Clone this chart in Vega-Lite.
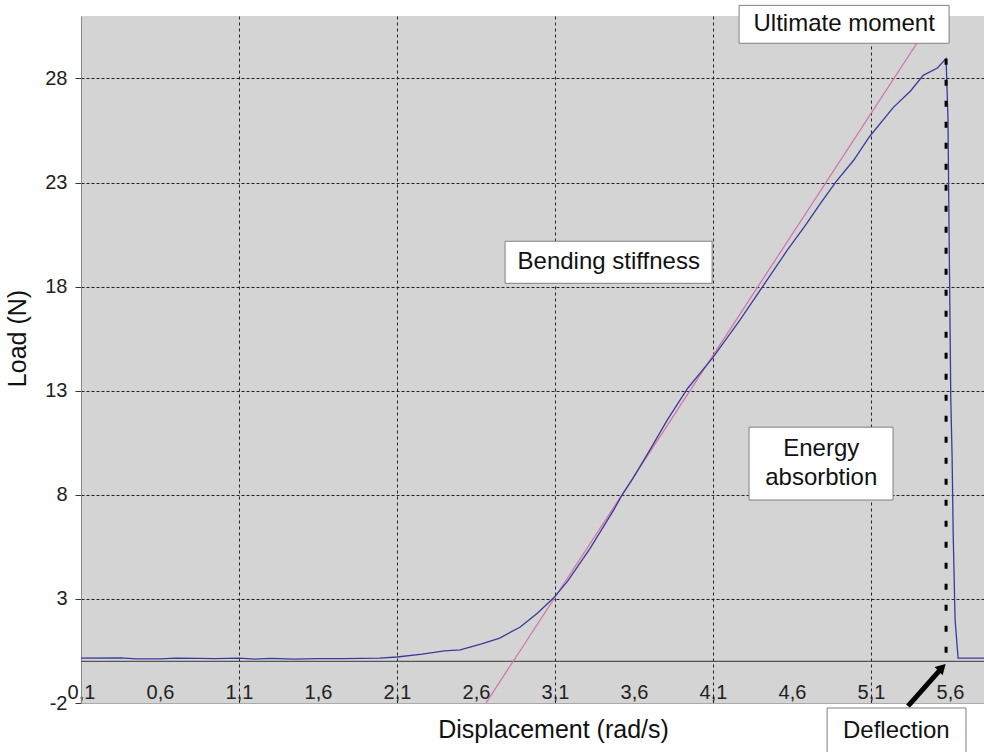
{
  "$schema": "https://vega.github.io/schema/vega-lite/v6.json",
  "autosize": {"type": "none"},
  "width": 903,
  "height": 687,
  "padding": {"left": 81, "top": 16, "right": 0, "bottom": 49},
  "background": "white",
  "config": {
    "font": "Liberation Sans",
    "view": {"fill": "#d4d4d4", "stroke": null}
  },
  "datasets": {
    "blue": [
      {"x": 0.10, "y": 0.16}, {"x": 0.35, "y": 0.17}, {"x": 0.45, "y": 0.12}, {"x": 0.60, "y": 0.12},
      {"x": 0.70, "y": 0.16}, {"x": 0.85, "y": 0.14}, {"x": 0.95, "y": 0.13}, {"x": 1.10, "y": 0.16},
      {"x": 1.20, "y": 0.11}, {"x": 1.30, "y": 0.14}, {"x": 1.45, "y": 0.11}, {"x": 1.60, "y": 0.13},
      {"x": 1.75, "y": 0.13}, {"x": 1.99, "y": 0.16}, {"x": 2.10, "y": 0.21}, {"x": 2.26, "y": 0.35},
      {"x": 2.40, "y": 0.50}, {"x": 2.50, "y": 0.55}, {"x": 2.63, "y": 0.83}, {"x": 2.75, "y": 1.12},
      {"x": 2.88, "y": 1.65}, {"x": 2.99, "y": 2.32}, {"x": 3.09, "y": 3.04}, {"x": 3.18, "y": 3.85},
      {"x": 3.32, "y": 5.4}, {"x": 3.47, "y": 7.25}, {"x": 3.52, "y": 7.94}, {"x": 3.59, "y": 8.75},
      {"x": 3.70, "y": 10.15}, {"x": 3.81, "y": 11.59}, {"x": 3.94, "y": 13.12}, {"x": 4.10, "y": 14.60},
      {"x": 4.27, "y": 16.39}, {"x": 4.42, "y": 18.07}, {"x": 4.57, "y": 19.75}, {"x": 4.68, "y": 20.9},
      {"x": 4.78, "y": 22.0}, {"x": 4.88, "y": 23.06}, {"x": 4.99, "y": 24.07}, {"x": 5.09, "y": 25.2},
      {"x": 5.24, "y": 26.6}, {"x": 5.35, "y": 27.4}, {"x": 5.43, "y": 28.15}, {"x": 5.52, "y": 28.5},
      {"x": 5.575, "y": 28.95}, {"x": 5.587, "y": 26.1}, {"x": 5.592, "y": 22.1}, {"x": 5.605, "y": 12.5},
      {"x": 5.613, "y": 9.9}, {"x": 5.62, "y": 6.1}, {"x": 5.632, "y": 2.0}, {"x": 5.651, "y": 0.16},
      {"x": 5.815, "y": 0.16}
    ],
    "pink": [{"x": 2.663, "y": -2}, {"x": 5.503, "y": 31}],
    "boxes": [
      {"x1": 4.265, "x2": 5.594, "y1": 31.51, "y2": 29.69},
      {"x1": 2.784, "x2": 4.094, "y1": 20.18, "y2": 18.16},
      {"x1": 4.328, "x2": 5.239, "y1": 11.25, "y2": 7.75},
      {"x1": 4.822, "x2": 5.701, "y1": -2.24, "y2": -4.6}
    ],
    "labels": [
      {"label": "Ultimate moment", "x": 4.93, "y": 30.6},
      {"label": "Bending stiffness", "x": 3.44, "y": 19.17},
      {"label": "Energy", "x": 4.785, "y": 10.19},
      {"label": "absorbtion", "x": 4.785, "y": 8.80},
      {"label": "Deflection", "x": 5.26, "y": -3.34}
    ]
  },
  "layer": [
    {
      "data": {"values": [{"y": 0}]},
      "mark": {"type": "rule", "color": "#555555", "strokeWidth": 1.2},
      "encoding": {
        "y": {
          "field": "y", "type": "quantitative",
          "scale": {"domain": [-2, 31], "nice": false, "zero": false},
          "axis": {
            "values": [-2, 3, 8, 13, 18, 23, 28],
            "labelExpr": "datum.value < 0 ? '-' + abs(datum.value) : '' + datum.value",
            "grid": true, "gridColor": "#222222", "gridDash": [3, 2], "gridWidth": 1,
            "gridOpacity": {"condition": {"test": "datum.value < 0", "value": 0}, "value": 1},
            "domainColor": "#888888", "tickColor": "#333333", "tickSize": 6,
            "labelPadding": 8, "labelFontSize": 20, "labelColor": "#222222",
            "title": "Load (N)", "titleFontSize": 25, "titleFontWeight": "normal", "titleColor": "#111111",
            "titleX": -56, "titleY": 322, "titleBaseline": "alphabetic", "titleAlign": "center", "titleAngle": -90
          }
        }
      }
    },
    {
      "data": {"name": "pink"},
      "mark": {"type": "line", "color": "#d070ac", "strokeWidth": 1.2, "clip": true},
      "encoding": {
        "x": {
          "field": "x", "type": "quantitative",
          "scale": {"domain": [0.1, 5.815], "nice": false, "zero": false},
          "axis": {
            "values": [0.1, 0.6, 1.1, 1.6, 2.1, 2.6, 3.1, 3.6, 4.1, 4.6, 5.1, 5.6],
            "labelExpr": "replace(format(datum.value, '.1f'), '.', ',')",
            "labelFlush": false, "labelOverlap": false,
            "ticks": false, "tickSize": 0,
            "labelPadding": -5, "labelBaseline": "alphabetic",
            "labelFontSize": 20, "labelColor": "#222222",
            "domainColor": "#aaaaaa",
            "grid": true, "gridColor": "#222222", "gridDash": [3, 3], "gridWidth": 1,
            "gridOpacity": {"condition": {"test": "round(datum.value * 10) % 10 == 1 && datum.value > 0.5", "value": 1}, "value": 0},
            "title": "Displacement (rad/s)", "titleFontSize": 25, "titleFontWeight": "normal", "titleColor": "#111111",
            "titleX": 472, "titleY": 34, "titleBaseline": "alphabetic", "titleAlign": "center"
          }
        },
        "y": {"field": "y", "type": "quantitative"}
      }
    },
    {
      "data": {"name": "blue"},
      "mark": {"type": "line", "color": "#3a3a9c", "strokeWidth": 1.3},
      "encoding": {
        "x": {"field": "x", "type": "quantitative"},
        "y": {"field": "y", "type": "quantitative"}
      }
    },
    {
      "data": {"values": [{"x": 5.575, "y": 28.95, "y2": 0}]},
      "mark": {"type": "rule", "color": "black", "strokeWidth": 3, "strokeDash": [6, 15]},
      "encoding": {
        "x": {"field": "x", "type": "quantitative"},
        "y": {"field": "y", "type": "quantitative"},
        "y2": {"field": "y2"}
      }
    },
    {
      "data": {"values": [{"x": 5.334, "y": -2.15, "x2": 5.55, "y2": -0.3}]},
      "mark": {"type": "rule", "color": "black", "strokeWidth": 5},
      "encoding": {
        "x": {"field": "x", "type": "quantitative"},
        "y": {"field": "y", "type": "quantitative"},
        "x2": {"field": "x2"},
        "y2": {"field": "y2"}
      }
    },
    {
      "data": {"values": [{"x": 5.55, "y": -0.3}]},
      "mark": {"type": "point", "shape": "triangle-up", "angle": 45, "filled": true, "color": "black", "opacity": 1, "size": 130},
      "encoding": {
        "x": {"field": "x", "type": "quantitative"},
        "y": {"field": "y", "type": "quantitative"}
      }
    },
    {
      "data": {"name": "boxes"},
      "mark": {"type": "rect", "fill": "white", "stroke": "#808080", "strokeWidth": 1},
      "encoding": {
        "x": {"field": "x1", "type": "quantitative"},
        "x2": {"field": "x2"},
        "y": {"field": "y1", "type": "quantitative"},
        "y2": {"field": "y2"}
      }
    },
    {
      "data": {"name": "labels"},
      "mark": {"type": "text", "fontSize": 24, "color": "#111111", "align": "center", "baseline": "middle"},
      "encoding": {
        "x": {"field": "x", "type": "quantitative"},
        "y": {"field": "y", "type": "quantitative"},
        "text": {"field": "label"}
      }
    }
  ]
}
